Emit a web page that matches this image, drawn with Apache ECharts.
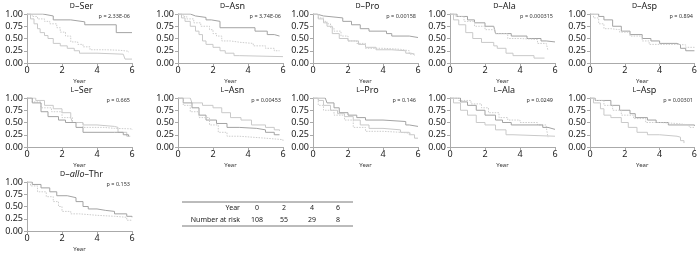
<!DOCTYPE html>
<html>
<head>
<meta charset="utf-8">
<script src="https://cdn.jsdelivr.net/npm/echarts@6/dist/echarts.min.js"></script>
<style>
  html, body { margin: 0; padding: 0; background: #fff; }
  #km { width: 700px; height: 253px; }
</style>
</head>
<body>
<div id="km"></div>
<script>
// 生存曲线数据 [年, 生存率]
const dSerA = [[0,1],[0.9,0.96],[1.5,0.88],[2.5,0.84],[3.3,0.78],[5.1,0.62],[6,0.62]]
const dSerB = [[0,1],[0.3,0.95],[0.6,0.9],[1.0,0.85],[1.3,0.8],[1.7,0.72],[1.9,0.63],[2.2,0.55],[2.5,0.43],[2.9,0.38],[3.2,0.33],[3.6,0.27],[4.5,0.26],[5.3,0.24],[5.8,0.22]]
const dSerC = [[0,1],[0.2,0.9],[0.4,0.8],[0.6,0.7],[0.75,0.62],[1.0,0.56],[1.2,0.5],[1.5,0.4],[1.9,0.35],[2.3,0.3],[2.7,0.25],[3.0,0.2],[4.0,0.18],[5.5,0.17],[5.6,0.08],[6,0.08]]

const dAsnA = [[0,1],[0.7,0.96],[1.0,0.93],[1.6,0.88],[1.9,0.85],[2.4,0.72],[4.4,0.65],[5.1,0.58],[5.5,0.55],[5.8,0.55]]
const dAsnB = [[0,1],[0.3,0.95],[0.5,0.9],[0.9,0.82],[1.3,0.75],[1.8,0.68],[2.0,0.6],[2.2,0.55],[2.5,0.45],[3.0,0.42],[3.6,0.4],[4.3,0.35],[5.0,0.3],[5.5,0.25],[5.8,0.25]]
const dAsnC = [[0,1],[0.2,0.92],[0.4,0.85],[0.7,0.75],[1.0,0.65],[1.2,0.58],[1.4,0.45],[1.6,0.38],[2.0,0.32],[2.4,0.25],[2.7,0.2],[3.2,0.15],[3.5,0.13],[6,0.13]]

const dProA = [[0,1],[0.2,0.96],[0.6,0.92],[1.7,0.85],[2.2,0.78],[2.7,0.7],[3.2,0.65],[4.2,0.6],[4.5,0.55],[5.5,0.52],[6,0.52]]
const dProB = [[0,1],[0.3,0.92],[0.6,0.85],[0.8,0.8],[1.0,0.72],[1.2,0.65],[1.6,0.55],[2.0,0.45],[2.5,0.4],[3.0,0.3],[4.0,0.28],[5.0,0.25],[5.5,0.18],[5.8,0.15]]
const dProC = [[0,1],[0.3,0.9],[0.6,0.82],[0.8,0.75],[1.1,0.6],[1.5,0.5],[2.0,0.45],[2.6,0.38],[3.0,0.32],[3.6,0.27],[4.5,0.25],[5.3,0.2],[5.6,0.18],[5.8,0.18]]

const dAlaA = [[0,1],[0.4,0.95],[1.0,0.88],[1.4,0.82],[2.0,0.75],[2.5,0.73],[2.6,0.6],[3.5,0.55],[4.4,0.5],[5.2,0.45],[5.5,0.43],[6,0.43]]
const dAlaB = [[0,1],[0.3,0.95],[0.8,0.85],[1.4,0.75],[2.0,0.68],[2.6,0.6],[3.3,0.5],[4.0,0.48],[5.0,0.4],[5.5,0.38],[5.6,0.25]]
const dAlaC = [[0,1],[0.2,0.88],[0.5,0.78],[0.9,0.62],[1.3,0.5],[1.8,0.42],[2.5,0.35],[2.7,0.3],[3.2,0.2],[3.6,0.15],[4.8,0.1],[5.4,0.1]]

const dAspA = [[0,1],[0.5,0.95],[0.8,0.88],[1.3,0.75],[1.8,0.65],[2.3,0.58],[3.0,0.5],[3.5,0.45],[4.0,0.4],[5.0,0.37],[5.2,0.3],[5.5,0.25],[6,0.25]]
const dAspB = [[0,1],[0.2,0.92],[0.5,0.8],[0.8,0.7],[1.2,0.68],[1.7,0.63],[2.3,0.55],[3.0,0.45],[3.4,0.38],[5.0,0.37],[5.5,0.32],[6,0.3]]

const lSerA = [[0,1],[0.5,0.95],[1.0,0.85],[1.5,0.78],[2.0,0.7],[2.5,0.6],[2.6,0.5],[3.2,0.45],[4.0,0.42],[5.0,0.4],[5.2,0.3],[5.7,0.22],[5.9,0.22]]
const lSerB = [[0,1],[0.3,0.92],[0.8,0.8],[1.4,0.72],[2.0,0.6],[2.6,0.5],[3.2,0.4],[4.4,0.38],[5.0,0.37],[6,0.35]]
const lSerC = [[0,1],[0.3,0.9],[0.8,0.72],[1.2,0.62],[1.8,0.55],[2.2,0.5],[2.8,0.4],[3.2,0.3],[5.0,0.3],[5.5,0.25],[5.8,0.22]]

const lAsnA = [[0,1],[0.7,0.96],[0.8,0.9],[1.4,0.85],[2.0,0.8],[2.5,0.7],[3.0,0.6],[3.6,0.55],[4.2,0.45],[5.0,0.4],[5.5,0.35],[5.8,0.33]]
const lAsnB = [[0,1],[0.3,0.9],[0.8,0.8],[1.2,0.65],[1.6,0.55],[2.2,0.48],[2.8,0.4],[3.5,0.38],[4.5,0.35],[5.0,0.3],[5.5,0.25],[5.8,0.25]]
const lAsnC = [[0,1],[0.3,0.85],[0.7,0.72],[1.2,0.6],[1.8,0.45],[2.3,0.3],[2.8,0.22],[3.5,0.18],[5.0,0.15],[6,0.12]]

const lProA = [[0,1],[0.7,0.96],[0.8,0.9],[1.2,0.8],[1.5,0.7],[2.0,0.65],[2.5,0.6],[3.0,0.55],[4.0,0.52],[5.3,0.45],[5.5,0.42],[6,0.42]]
const lProB = [[0,1],[0.3,0.95],[0.6,0.85],[1.0,0.75],[1.4,0.68],[1.8,0.62],[2.3,0.55],[2.7,0.45],[3.2,0.38],[4.0,0.35],[5.0,0.3],[5.5,0.25],[5.8,0.18],[6,0.18]]
const lProC = [[0,1],[0.3,0.85],[0.6,0.75],[1.2,0.65],[1.8,0.55],[2.3,0.4],[3.0,0.32],[4.0,0.3],[5.0,0.28],[5.6,0.25]]

const lAlaA = [[0,1],[0.5,0.95],[1.2,0.88],[1.8,0.8],[2.2,0.7],[2.8,0.6],[3.3,0.55],[4.0,0.5],[5.0,0.45],[5.5,0.4],[5.6,0.2]]
const lAlaB = [[0,1],[0.6,0.92],[1.0,0.85],[1.5,0.75],[2.0,0.65],[2.6,0.55],[3.0,0.5],[3.5,0.45],[5.0,0.45],[5.3,0.4],[5.6,0.36],[6,0.35]]
const lAlaC = [[0,1],[0.2,0.9],[0.6,0.75],[1.0,0.65],[1.5,0.5],[2.0,0.45],[2.6,0.35],[3.2,0.25],[3.6,0.22],[6,0.22]]

const lAspA = [[0,1],[0.3,0.95],[1.2,0.85],[1.7,0.75],[2.3,0.68],[2.6,0.6],[3.3,0.55],[3.8,0.5],[4.5,0.45],[6,0.43]]
const lAspB = [[0,1],[0.3,0.95],[0.8,0.85],[1.3,0.75],[1.8,0.65],[2.5,0.58],[3.2,0.5],[4.0,0.48],[5.0,0.45],[5.7,0.4],[6,0.4]]
const lAspC = [[0,1],[0.2,0.9],[0.6,0.78],[0.8,0.65],[1.2,0.6],[1.8,0.5],[2.2,0.4],[2.7,0.3],[3.3,0.25],[4.0,0.22],[5.0,0.2],[5.2,0.13],[5.4,0.08]]

const dAlloThrA = [[0,1],[0.3,0.95],[0.8,0.88],[1.3,0.8],[1.7,0.72],[2.3,0.68],[2.8,0.6],[3.2,0.5],[3.5,0.45],[4.0,0.42],[4.5,0.4],[5.0,0.35],[5.7,0.3],[6,0.28]]
const dAlloThrB = [[0,1],[0.2,0.92],[0.6,0.8],[1.1,0.7],[1.5,0.6],[1.8,0.5],[2.0,0.4],[2.5,0.35],[3.0,0.32],[4.0,0.3],[5.0,0.28],[5.7,0.22],[6,0.22]]

// 面板标题和p值
const panelTitles = ['{sc|D}–Ser', '{sc|D}–Asn', '{sc|D}–Pro', '{sc|D}–Ala', '{sc|D}–Asp',
  '{sc|L}–Ser', '{sc|L}–Asn', '{sc|L}–Pro', '{sc|L}–Ala', '{sc|L}–Asp', '{sc|D}–{it|allo}–Thr']
const pValues = ['2.33E-06', '3.74E-06', '0.00158', '0.000315', '0.894',
  '0.665', '0.00453', '0.146', '0.0249', '0.00301', '0.153']

// 每个面板的曲线: [数据, 线型]
const panelCurves = [
  [[dSerA, 'dark'], [dSerB, 'dot'], [dSerC, 'light']],
  [[dAsnA, 'dark'], [dAsnB, 'dot'], [dAsnC, 'light']],
  [[dProA, 'dark'], [dProB, 'dot'], [dProC, 'light']],
  [[dAlaA, 'dark'], [dAlaB, 'dot'], [dAlaC, 'light']],
  [[dAspA, 'dark'], [dAspB, 'dot']],
  [[lSerA, 'light'], [lSerB, 'dot'], [lSerC, 'dark']],
  [[lAsnA, 'light'], [lAsnB, 'dark'], [lAsnC, 'dot']],
  [[lProA, 'dark'], [lProB, 'light'], [lProC, 'dot']],
  [[lAlaA, 'dot'], [lAlaB, 'dark'], [lAlaC, 'light']],
  [[lAspA, 'dark'], [lAspB, 'dot'], [lAspC, 'light']],
  [[dAlloThrA, 'dark'], [dAlloThrB, 'dot']]
]

// 风险人数表
const riskYears = [0, 2, 4, 6]
const riskCounts = [108, 55, 29, 8]

const FONT = 'Noto Sans'
const colLeft = [27, 178, 313, 450, 590]
const rowTop = [14, 98, 182]
const plotW = 105
const plotH = 49
const lineStyles = {
  dark: { color: '#a3a3a3', width: 1, type: 'solid' },
  light: { color: '#c9c9c9', width: 1, type: 'solid' },
  dot: { color: '#cdcdcd', width: 1, type: [1.5, 1.2] }
}

const chart = echarts.init(document.getElementById('km'), null, { renderer: 'canvas' })

const grid = [], xAxis = [], yAxis = [], series = [], graphic = []
panelCurves.forEach((curves, i) => {
  const left = colLeft[i % 5]
  const top = rowTop[Math.floor(i / 5)]
  grid.push({ left: left, top: top, width: plotW, height: plotH })
  xAxis.push({
    gridIndex: i, type: 'value', min: 0, max: 6, interval: 2,
    name: 'Year', nameLocation: 'middle', nameGap: 15,
    nameTextStyle: { fontSize: 6, color: '#333', fontFamily: FONT },
    axisLine: { lineStyle: { color: '#aaa' } },
    axisTick: { length: 3, lineStyle: { color: '#aaa' } },
    axisLabel: { fontSize: 9, color: '#222', margin: 3, fontFamily: FONT },
    splitLine: { show: false }
  })
  yAxis.push({
    gridIndex: i, type: 'value', min: 0, max: 1, interval: 0.25,
    axisLine: { show: true, lineStyle: { color: '#aaa' } },
    axisTick: { show: true, length: 3, lineStyle: { color: '#aaa' } },
    axisLabel: { fontSize: 9, color: '#222', margin: 4, fontFamily: FONT,
      formatter: v => v.toFixed(2) },
    splitLine: { show: false }
  })
  curves.forEach(c => {
    series.push({
      type: 'line', xAxisIndex: i, yAxisIndex: i, step: 'end',
      showSymbol: false, silent: true, data: c[0],
      lineStyle: lineStyles[c[1]]
    })
  })
  // 标题
  graphic.push({
    type: 'text', x: left + plotW / 2 + 2, y: top - 8,
    style: {
      text: panelTitles[i], align: 'center', verticalAlign: 'middle',
      fontSize: 9, fontFamily: FONT, fill: '#222',
      rich: {
        sc: { fontSize: 7, fontFamily: FONT, fill: '#222' },
        it: { fontSize: 9, fontStyle: 'italic', fontFamily: FONT, fill: '#222' }
      }
    }
  })
  // p值
  graphic.push({
    type: 'text', x: left + plotW - 2, y: top + 2,
    style: {
      text: 'p = ' + pValues[i], align: 'right', verticalAlign: 'middle',
      fontSize: 5.5, fontFamily: FONT, fill: '#333'
    }
  })
})

// 表格
const tLeft = 182, tRight = 353, tTop = 202, tBottom = 226
const colX = [257, 284, 312, 338]
graphic.push({ type: 'line', shape: { x1: tLeft, y1: tTop, x2: tRight, y2: tTop }, style: { stroke: '#555', lineWidth: 0.8 } })
graphic.push({ type: 'line', shape: { x1: tLeft, y1: tBottom, x2: tRight, y2: tBottom }, style: { stroke: '#555', lineWidth: 0.8 } })
graphic.push({ type: 'text', x: 240, y: 208, style: { text: 'Year', align: 'right', verticalAlign: 'middle', fontSize: 7, fontFamily: FONT, fill: '#222' } })
graphic.push({ type: 'text', x: 240, y: 220, style: { text: 'Number at risk', align: 'right', verticalAlign: 'middle', fontSize: 7, fontFamily: FONT, fill: '#222' } })
riskYears.forEach((yr, k) => {
  graphic.push({ type: 'text', x: colX[k], y: 208, style: { text: String(yr), align: 'center', verticalAlign: 'middle', fontSize: 7, fontFamily: FONT, fill: '#222' } })
  graphic.push({ type: 'text', x: colX[k], y: 220, style: { text: String(riskCounts[k]), align: 'center', verticalAlign: 'middle', fontSize: 7, fontFamily: FONT, fill: '#222' } })
})

chart.setOption({
  backgroundColor: '#fff',
  animation: false,
  grid: grid,
  xAxis: xAxis,
  yAxis: yAxis,
  series: series,
  graphic: graphic
})
</script>
</body>
</html>
